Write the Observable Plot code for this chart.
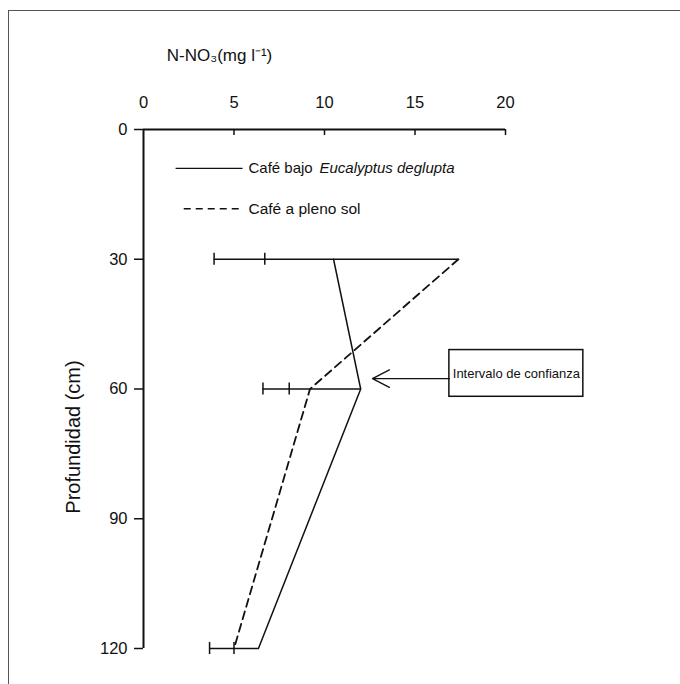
<!DOCTYPE html>
<html>
<head>
<meta charset="utf-8">
<script src="https://cdn.jsdelivr.net/npm/d3@7"></script>
<script src="https://cdn.jsdelivr.net/npm/@observablehq/plot@0.6"></script>
<style>
  html, body { margin: 0; padding: 0; background: #fff; }
  #wrap { position: relative; width: 680px; height: 684px; overflow: hidden; }
  #page { position: absolute; left: 8px; top: 10px; width: 700px; height: 700px;
          border-left: 1.5px solid #555; border-top: 1.5px solid #555; }
  #chart { position: absolute; left: 0; top: 0; }
</style>
</head>
<body>
<div id="wrap"><div id="page"></div><div id="chart"></div></div>
<script>
// ---- data ----
const depths = [30, 60, 120];
const eucalyptus = [10.5, 12.0, 6.35];      // Café bajo Eucalyptus deglupta
const plenoSol = [17.4, 9.2, 5.0];          // Café a pleno sol
const ciLow = [3.9, 6.6, 3.65];
const ciMid = [6.7, 8.05, 5.0];
const ciHigh = [17.4, 12.0, 6.35];
const xTicks = [0, 5, 10, 15, 20];
const yTicks = [0, 30, 60, 90, 120];
const seriesNames = ["Café bajo", "Eucalyptus deglupta", "Café a pleno sol"];
const xTitle = "N-NO₃(mg l⁻¹)";
const yTitle = "Profundidad (cm)";
const noteText = "Intervalo de confianza";

// ---- layout (data-space positions for legend / annotation) ----
const legend = {x1: 1.8, x2: 5.5, xText: 5.8, ySolid: 9, yDash: 18.3};
const note = {x1: 16.9, x2: 24.3, y1: 51, y2: 61.8, yArrow: 57.6, xTip: 12.65};

const eucData = depths.map((d, i) => ({depth: d, x: eucalyptus[i]}));
const solData = depths.map((d, i) => ({depth: d, x: plenoSol[i]}));
const ciData = depths.map((d, i) => ({depth: d, low: ciLow[i], mid: ciMid[i], high: ciHigh[i]}));
const caps = ciData.flatMap(d => [{depth: d.depth, x: d.low}, {depth: d.depth, x: d.mid}]);

const font = "'Liberation Sans', Arial, Helvetica, sans-serif";
const ink = "#111";

const chart = Plot.plot({
  width: 680,
  height: 684,
  marginLeft: 143,
  marginRight: 175,
  marginTop: 129,
  marginBottom: 36,
  style: {fontFamily: font, color: ink, background: "transparent", overflow: "visible"},
  x: {domain: [0, 20]},
  y: {domain: [0, 120], reverse: true},
  marks: [
    // axes
    Plot.axisX({anchor: "top", ticks: xTicks, tickSize: 0, tickPadding: 22, fontSize: 16.5, label: null, tickFormat: d => d}),
    Plot.axisY({anchor: "left", ticks: yTicks, tickSize: 9, tickPadding: 7, fontSize: 16.5, label: null, tickFormat: d => d, strokeWidth: 1.5}),
    Plot.ruleY([0], {x1: 0, x2: 20, stroke: ink, strokeWidth: 2}),
    Plot.ruleX([0], {y1: 0, y2: 120, stroke: ink, strokeWidth: 2}),
    Plot.ruleX(xTicks.slice(1), {x: d => d, y1: 0, y2: 1.4, stroke: ink, strokeWidth: 1.5}),
    // titles
    Plot.text([xTitle], {text: d => d, frameAnchor: "top-left", dx: 76, dy: -81, fontSize: 17, textAnchor: "middle", fill: ink}),
    Plot.text([yTitle], {text: d => d, frameAnchor: "left", dx: -70, dy: 48, rotate: -90, fontSize: 20, textAnchor: "middle", fill: ink}),
    // confidence intervals
    Plot.ruleY(ciData, {y: "depth", x1: "low", x2: "high", stroke: ink, strokeWidth: 1.5}),
    Plot.ruleX(caps, {x: "x", y1: d => d.depth - 1.4, y2: d => d.depth + 1.4, stroke: ink, strokeWidth: 1.5}),
    // series
    Plot.line(eucData, {x: "x", y: "depth", stroke: ink, strokeWidth: 1.5}),
    Plot.line(solData, {x: "x", y: "depth", stroke: ink, strokeWidth: 1.8, strokeDasharray: "8,5"}),
    // legend
    Plot.ruleY([legend.ySolid], {x1: legend.x1, x2: legend.x2, stroke: ink, strokeWidth: 1.2}),
    Plot.ruleY([legend.yDash], {x1: legend.x1 + 0.45, x2: legend.x2, stroke: ink, strokeWidth: 1.5, strokeDasharray: "7,5"}),
    Plot.text([seriesNames[0]], {x: legend.xText, y: legend.ySolid, text: d => d, textAnchor: "start", fontSize: 15, fill: ink}),
    Plot.text([seriesNames[1]], {x: legend.xText, y: legend.ySolid, dx: 71, text: d => d, textAnchor: "start", fontSize: 15, fontStyle: "italic", fill: ink}),
    Plot.text([seriesNames[2]], {x: legend.xText, y: legend.yDash, text: d => d, textAnchor: "start", fontSize: 15.5, fill: ink}),
    // annotation
    Plot.rect([note], {x1: "x1", x2: "x2", y1: "y1", y2: "y2", fill: "white", stroke: ink, strokeWidth: 1.5}),
    Plot.text([noteText], {x: (note.x1 + note.x2) / 2, y: (note.y1 + note.y2) / 2, text: d => d, fontSize: 13, fill: ink}),
    Plot.arrow([note], {x1: "x1", y1: "yArrow", x2: "xTip", y2: "yArrow", stroke: ink, strokeWidth: 1.3, headLength: 22, headAngle: 55})
  ]
});
document.getElementById("chart").appendChild(chart);
</script>
</body>
</html>
